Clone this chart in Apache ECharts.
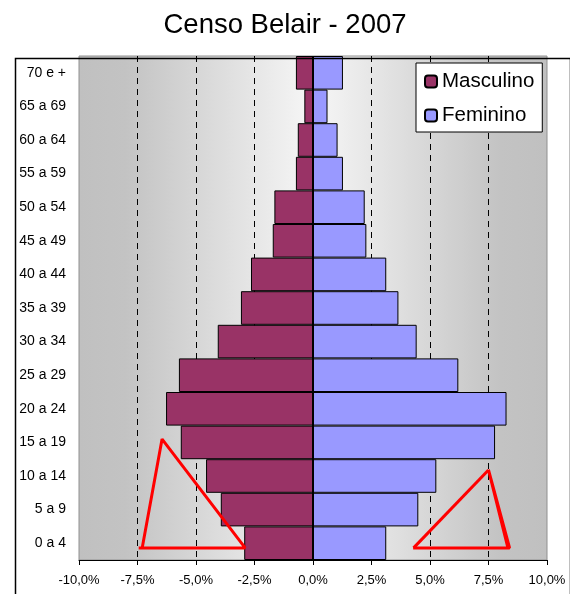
<!DOCTYPE html>
<html><head><meta charset="utf-8">
<script src="https://cdn.jsdelivr.net/npm/echarts@6/dist/echarts.min.js"></script>
<style>html,body{margin:0;padding:0;background:#fff}#c{width:570px;height:594px}</style>
</head><body><div id="c"></div>
<script>
var categories = ['0 a 4','5 a 9','10 a 14','15 a 19','20 a 24','25 a 29','30 a 34','35 a 39','40 a 44','45 a 49','50 a 54','55 a 59','60 a 64','65 a 69','70 e +'];
var masculino = [-2.94,-3.94,-4.57,-5.65,-6.28,-5.73,-4.07,-3.08,-2.65,-1.72,-1.65,-0.73,-0.65,-0.37,-0.73];
var feminino = [3.13,4.5,5.27,7.78,8.27,6.21,4.43,3.65,3.13,2.28,2.21,1.28,1.05,0.62,1.28];
// red annotation triangles: [percent, position in category bands from bottom]
var triLeft = [[-7.45,0.36],[-2.9,0.36],[-6.45,3.6],[-7.3,0.36]];
var triRight = [[4.28,0.36],[8.4,0.36],[7.5,2.68],[8.33,0.36],[8.36,0.36]];
var triRight2 = [[7.5,2.68],[4.3,0.36]];

var chart = echarts.init(document.getElementById('c'));
var font = 'Liberation Sans, Arial, sans-serif';
chart.setOption({
  animation: false,
  title: {text: 'Censo Belair - 2007', left: 'center', top: 6,
    textStyle: {fontFamily: font, fontSize: 27.5, fontWeight: 'normal', color: '#000'}},
  graphic: [{type: 'rect', left: 13, top: 56, shape: {width: 555, height: 600},
    style: {fill: 'none', stroke: '#000', lineWidth: 1.5}, z: 100}],
  grid: {left: 79, right: 23, top: 56, bottom: 34, show: true, borderColor: '#909090', borderWidth: 1,
    backgroundColor: new echarts.graphic.LinearGradient(0,0,1,0,[
      {offset:0,color:'#c0c0c0'},{offset:0.1,color:'#c3c3c3'},{offset:0.48,color:'#f4f4f4'},
      {offset:0.52,color:'#f4f4f4'},{offset:0.9,color:'#c3c3c3'},{offset:1,color:'#c0c0c0'}])},
  legend: {data: ['Masculino','Feminino'], orient: 'vertical', left: 416, top: 63,
    padding: [8,8,6,8], itemGap: 13, itemWidth: 12, itemHeight: 12,
    backgroundColor: '#fff', borderColor: '#000', borderWidth: 1,
    textStyle: {fontFamily: font, fontSize: 20.5, color: '#000'}},
  xAxis: {type: 'value', min: -10, max: 10, interval: 2.5,
    axisLine: {show: true, onZero: false, lineStyle: {color: '#000', width: 1}},
    axisTick: {show: true, length: 5, lineStyle: {color: '#000'}},
    axisLabel: {margin: 14, fontFamily: font, fontSize: 13, color: '#000',
      formatter: function(v){ return v.toFixed(1).replace('.', ',') + '%'; }},
    splitLine: {show: true, showMinLine: false, showMaxLine: false,
      lineStyle: {color: '#000', type: [6,5], width: 1}}},
  yAxis: [{type: 'category', data: categories,
    axisLine: {show: false, onZero: false}, axisTick: {show: false},
    axisLabel: {margin: 13, fontFamily: font, fontSize: 14, color: '#000'}},
    {type: 'value', min: 0, max: 15, show: false}],
  series: [
    {name: 'Masculino', type: 'bar', stack: 'p', data: masculino, barCategoryGap: 0,
      itemStyle: {color: '#993366', borderColor: '#000', borderWidth: 1},
      markLine: {silent: true, symbol: 'none', label: {show: false},
        lineStyle: {color: '#000', type: 'solid', width: 2}, data: [{xAxis: 0}]}, z: 3},
    {name: 'Feminino', type: 'bar', stack: 'p', data: feminino, barCategoryGap: 0,
      itemStyle: {color: '#9999ff', borderColor: '#000', borderWidth: 1}, z: 3},
    {type: 'line', yAxisIndex: 1, data: triLeft, symbol: 'none', silent: true,
      lineStyle: {color: '#ff0000', width: 3}, z: 10},
    {type: 'line', yAxisIndex: 1, data: triRight, symbol: 'none', silent: true,
      lineStyle: {color: '#ff0000', width: 3}, z: 10},
    {type: 'line', yAxisIndex: 1, data: triRight2, symbol: 'none', silent: true,
      lineStyle: {color: '#ff0000', width: 3}, z: 10}
  ]
});
</script></body></html>
